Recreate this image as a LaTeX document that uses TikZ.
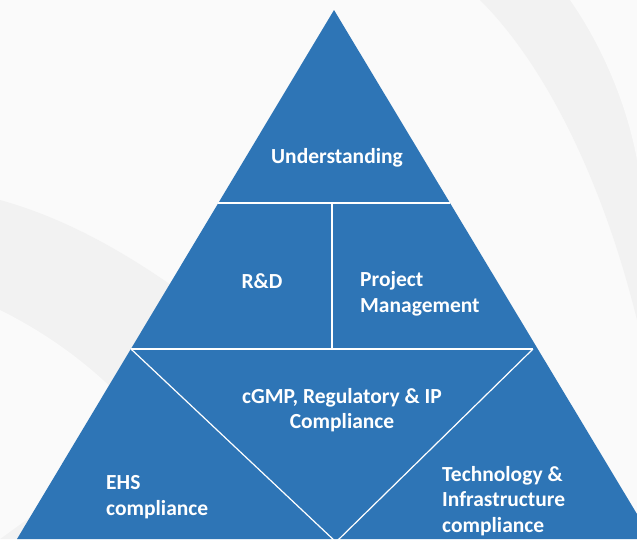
\documentclass[tikz,border=0pt]{standalone}
\usepackage{fontspec}
\setmainfont{Carlito}
\usetikzlibrary{positioning}
\definecolor{pyrblue}{HTML}{2E75B6}

\begin{document}
\begin{tikzpicture}[x=1pt, y=-1pt,
	lbl/.style={text=white, inner sep=0pt, font=\fontsize{21.5}{25.5}\selectfont\bfseries},
	divider/.style={white, line width=1.2pt}]

\clip (0,0) rectangle (637,539);

% Background
\fill[black!2] (0,0) rectangle (637,539);
\fill[black!5] (0,200) .. controls (90,225) and (170,280) .. (250,345) -- (250,539) -- (0,539) -- cycle;
\fill[black!2] (0,310) .. controls (60,340) and (110,380) .. (150,430) -- (0,539) -- cycle;
\fill[black!5] (480,0) .. controls (550,70) and (605,190) .. (637,320) -- (637,0) -- cycle;
\fill[black!2] (570,0) .. controls (605,50) and (628,110) .. (637,160) -- (637,0) -- cycle;

% Pyramid
\coordinate (apex) at (334,10);
\coordinate (botl) at (17,539);
\coordinate (botr) at (652,539);
\fill[pyrblue] (apex) -- (botl) -- (botr) -- cycle;

% Dividers
\coordinate (l1a) at (218,203);
\coordinate (l1b) at (450,203);
\coordinate (vtop) at (332,203);
\coordinate (vbot) at (332,349);
\coordinate (l2a) at (131,349);
\coordinate (l2b) at (533,349);
\coordinate (vtip) at (336,542);

\draw[divider] (l1a) -- (l1b);
\draw[divider] (vtop) -- (vbot);
\draw[divider] (l2a) -- (l2b);
\draw[divider] (l2a) -- (vtip) -- (l2b);

% Labels
\node[lbl] (und) at (337,158) {Understanding};
\node[lbl] (rnd) at (262,281) {R\&D};
\node[lbl, anchor=west, align=left] (pm) at (360,294) {Project\\Management};
\node[lbl, align=center] (cgmp) at (342,410) {cGMP, Regulatory \& IP\\Compliance};
\node[lbl, anchor=west, align=left] (ehs) at (106,497) {EHS\\compliance};
\node[lbl, anchor=west, align=left] (tech) at (442,501) {Technology \&\\Infrastructure\\compliance};

\end{tikzpicture}
\end{document}
